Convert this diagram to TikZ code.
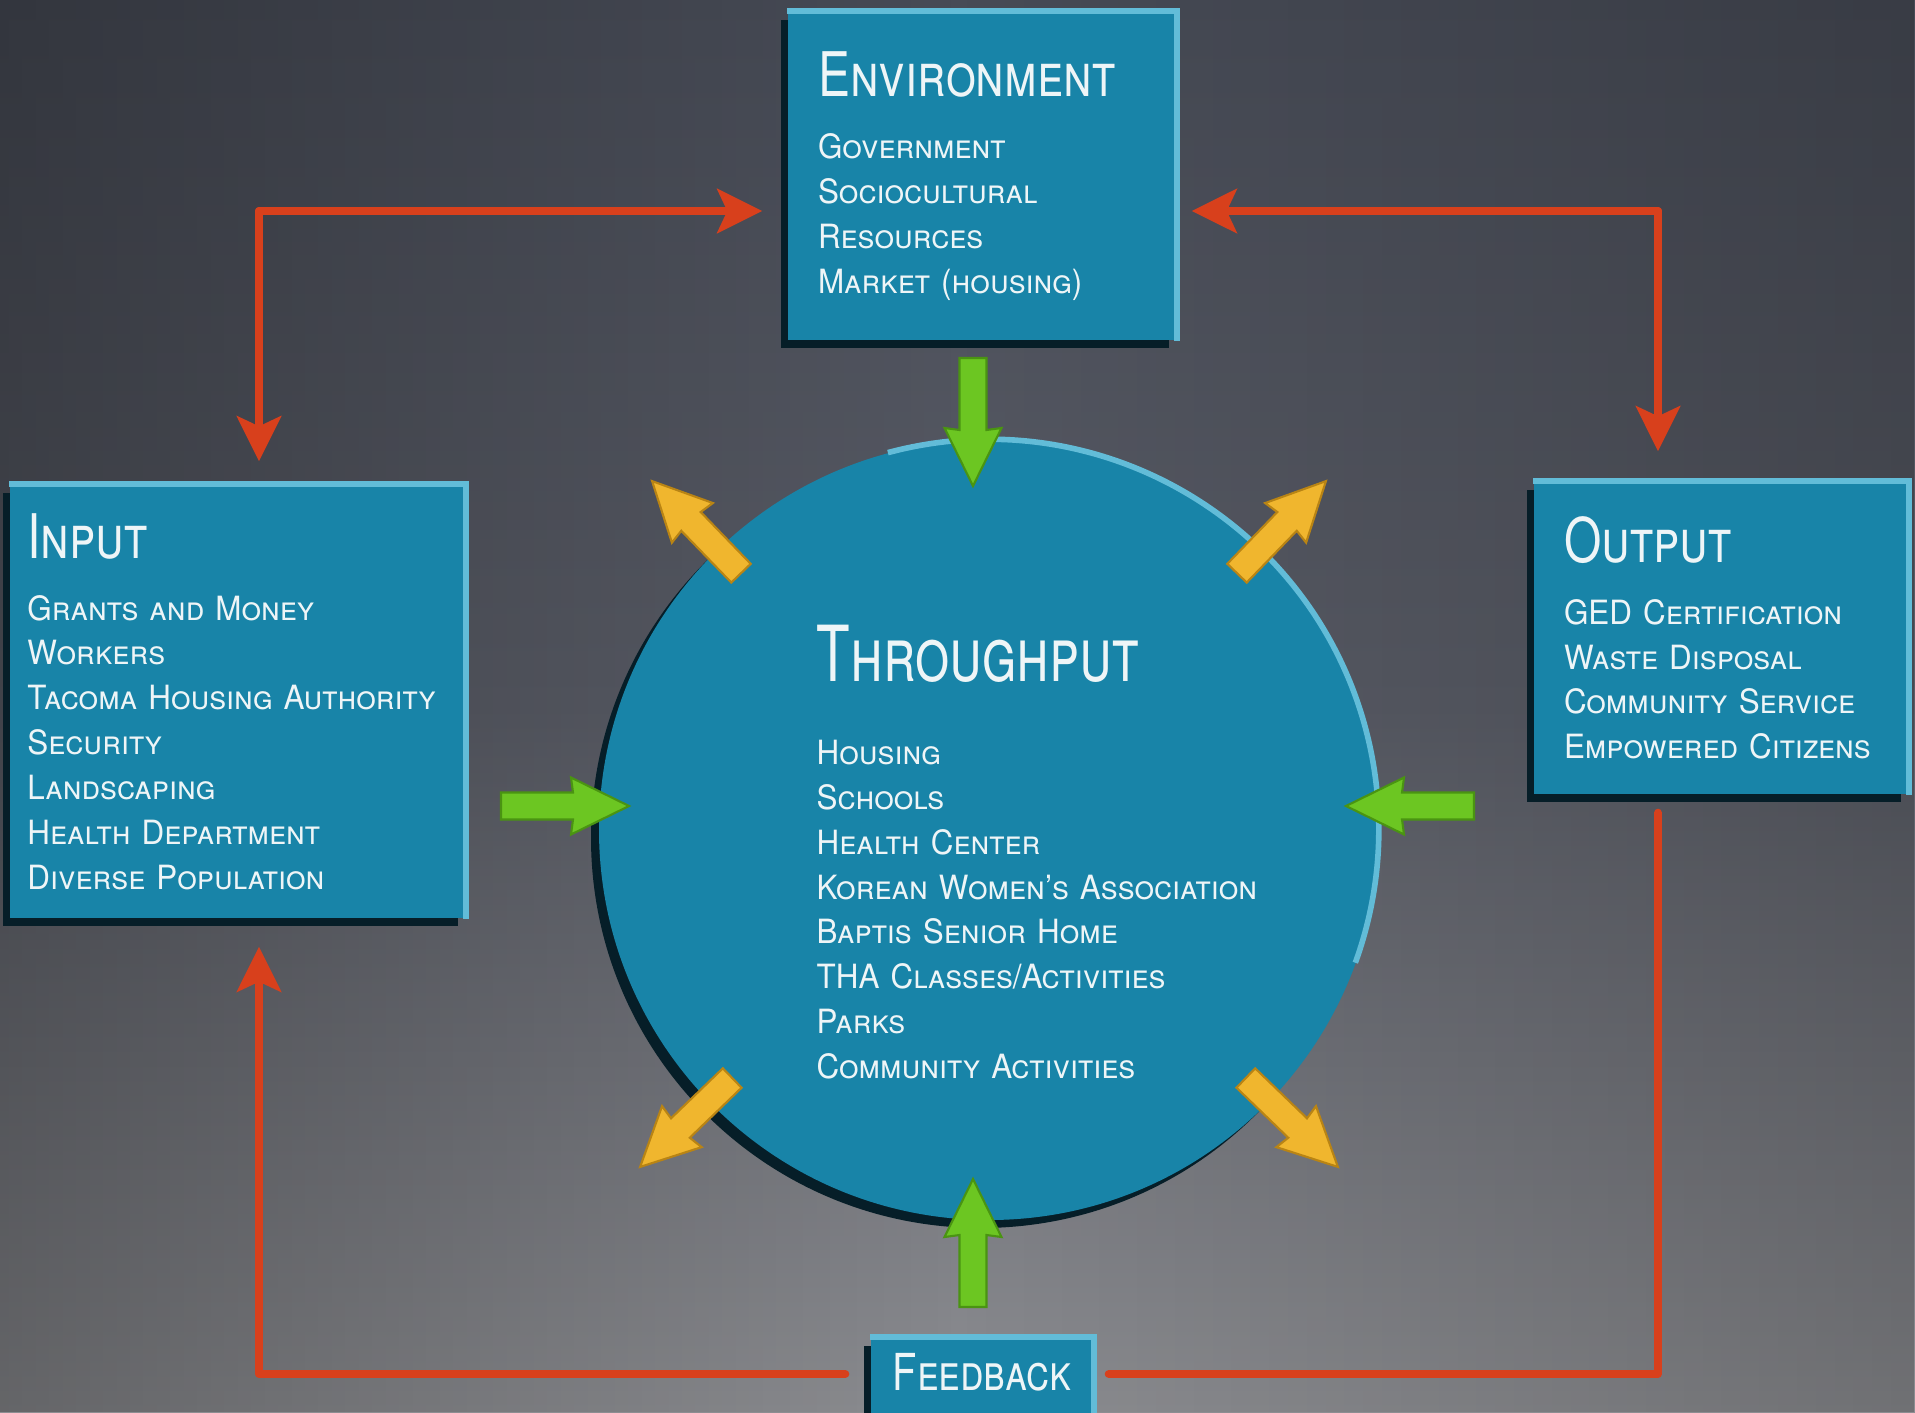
\documentclass[tikz,border=0pt]{standalone}
\usepackage{fontspec}
\setmainfont{TeX Gyre Heros}[Letters=SmallCaps, FakeStretch=0.94]
\newfontfamily\headfont{TeX Gyre Heros}[Letters=SmallCaps, FakeStretch=0.78]
\newfontfamily\bigheadfont{TeX Gyre Heros}[Letters=SmallCaps, FakeStretch=0.71]
\usetikzlibrary{arrows.meta,positioning,calc,shadows,fadings}

\definecolor{boxblue}{HTML}{1884A8}
\definecolor{boxlite}{HTML}{62BCD8}
\definecolor{boxdark}{HTML}{061E28}
\definecolor{redline}{HTML}{D8401C}
\definecolor{limegreen}{HTML}{6CC622}
\definecolor{limedark}{HTML}{4A9412}
\definecolor{gold}{HTML}{F0B62E}
\definecolor{golddark}{HTML}{B98414}
\definecolor{bgtop}{HTML}{474B56}
\definecolor{bgmid}{HTML}{5A5D67}
\definecolor{bgbot}{HTML}{8C8D91}
\definecolor{txt}{HTML}{EEF5F7}

\tikzfading[name=sidefade, left color=transparent!72, right color=transparent!80,
  middle color=transparent!100]

\newcommand\boxhead[1]{{\headfont\fontsize{17.5}{20}\selectfont #1}\\[4.8pt]}

\tikzset{
  sysbox/.style={rectangle, fill=boxblue, text=txt, align=left, inner ysep=0pt,
    font=\fontsize{9.5}{12.76}\selectfont\hyphenpenalty10000\relax,
    drop shadow={shadow xshift=-0.07cm, shadow yshift=-0.08cm, opacity=1, fill=boxdark}},
  rim/.style={boxlite, line width=1.6pt},
  loop/.style={redline, line width=0.08cm, line cap=round, line join=round},
  looptip/.style={loop, -{Stealth[length=0.45cm, width=0.44cm, inset=0.1cm]}},
  blockarrow/.pic={
    \path[pic actions] (0,-0.135) -- (0.72,-0.135) -- (0.70,-0.285) -- (1.28,0)
      -- (0.70,0.285) -- (0.72,0.135) -- (0,0.135) -- cycle;
  },
  greenflow/.style={fill=limegreen, draw=limedark, line width=0.6pt},
  goldflow/.style={fill=gold, draw=golddark, line width=0.6pt}
}

\begin{document}
\begin{tikzpicture}
    % Backdrop
    \useasboundingbox (0,0) rectangle (19.15,-14.12);
    \shade[top color=bgtop, bottom color=bgbot, middle color=bgmid] (0,0) rectangle (19.15,-14.12);
    \fill[black, path fading=sidefade] (0,0) rectangle (19.15,-14.12);

    % Throughput circle
    \node[circle, minimum size=7.8cm, fill=boxblue,
      drop shadow={shadow xshift=-0.08cm, shadow yshift=-0.08cm, opacity=1, fill=boxdark}] (thr) at (9.89,-8.30) {};
    \draw[rim] (thr.105) arc[start angle=105, end angle=-20, radius=3.9cm];
    \node[anchor=north west, text=txt, align=left, inner sep=0pt, text width=5cm,
      font=\fontsize{9.5}{12.76}\selectfont] (thrtext) at (8.16,-6.24)
      {{\bigheadfont\fontsize{22}{24}\selectfont Throughput}\\[11pt]
       Housing\\ Schools\\ Health Center\\ Korean Women's Association\\
       Baptis Senior Home\\ THA Classes/Activities\\ Parks\\ Community Activities};

    % The four boxes
    \node[sysbox, minimum width=3.88cm, minimum height=3.28cm, inner xsep=0.3cm,
      text width=3.28cm] (env) at (9.82,-1.76)
      {\boxhead{Environment} Government\\ Sociocultural\\ Resources\\ Market (housing)};
    \node[sysbox, minimum width=4.55cm, minimum height=4.33cm, inner xsep=0.175cm,
      text width=4.2cm] (inp) at (2.375,-7.015)
      {\boxhead{Input} Grants and Money\\ Workers\\ Tacoma Housing Authority\\ Security\\
       Landscaping\\ Health Department\\ Diverse Population};
    \node[sysbox, minimum width=3.74cm, minimum height=3.12cm, inner xsep=0.3cm,
      text width=3.14cm] (out) at (17.21,-6.38)
      {\boxhead{Output} GED Certification\\ Waste Disposal\\ Community Service\\ Empowered Citizens};
    \node[sysbox, anchor=north, minimum width=2.22cm, align=center, inner ysep=0.09cm,
      text height=0.44cm, text depth=0.3cm] (fb) at (9.82,-13.37)
      {\headfont\fontsize{14.5}{16}\selectfont Feedback};
    \foreach \b in {env,inp,out,fb}
      \draw[rim] (\b.north west) -- (\b.north east) -- (\b.south east);

    % Red loop
    \coordinate (lt) at (2.59,-2.11);
    \coordinate (rt) at (16.58,-2.11);
    \coordinate (lb) at (2.59,-13.74);
    \coordinate (rb) at (16.58,-13.74);
    \draw[looptip] (lt) -- ([xshift=-0.25cm]env.west |- lt);
    \draw[looptip] (lt) -- ([yshift=0.23cm]inp.north -| lt);
    \draw[looptip] (rt) -- ([xshift=0.15cm]env.east |- rt);
    \draw[looptip] (rt) -- ([yshift=0.30cm]out.north -| rt);
    \draw[looptip] ([xshift=-0.25cm]fb.west |- lb) -- (lb) -- ([yshift=-0.28cm]inp.south -| lb);
    \draw[loop] ([yshift=-0.18cm]out.south -| rb) -- (rb) -- ([xshift=0.15cm]fb.east |- rb);

    % Green arrows into the circle
    \pic[greenflow, rotate=-90] at (9.73,-3.58) {blockarrow};
    \pic[greenflow, rotate=90] at (9.73,-13.07) {blockarrow};
    \pic[greenflow] at (5.01,-8.06) {blockarrow};
    \pic[greenflow, rotate=180] at (14.74,-8.06) {blockarrow};

    % Gold arrows out of the circle
    \foreach \a in {46,134,224,316}
      \pic[goldflow, rotate=\a] at ($(thr.center)+(\a:3.57)$) {blockarrow};
\end{tikzpicture}
\end{document}
